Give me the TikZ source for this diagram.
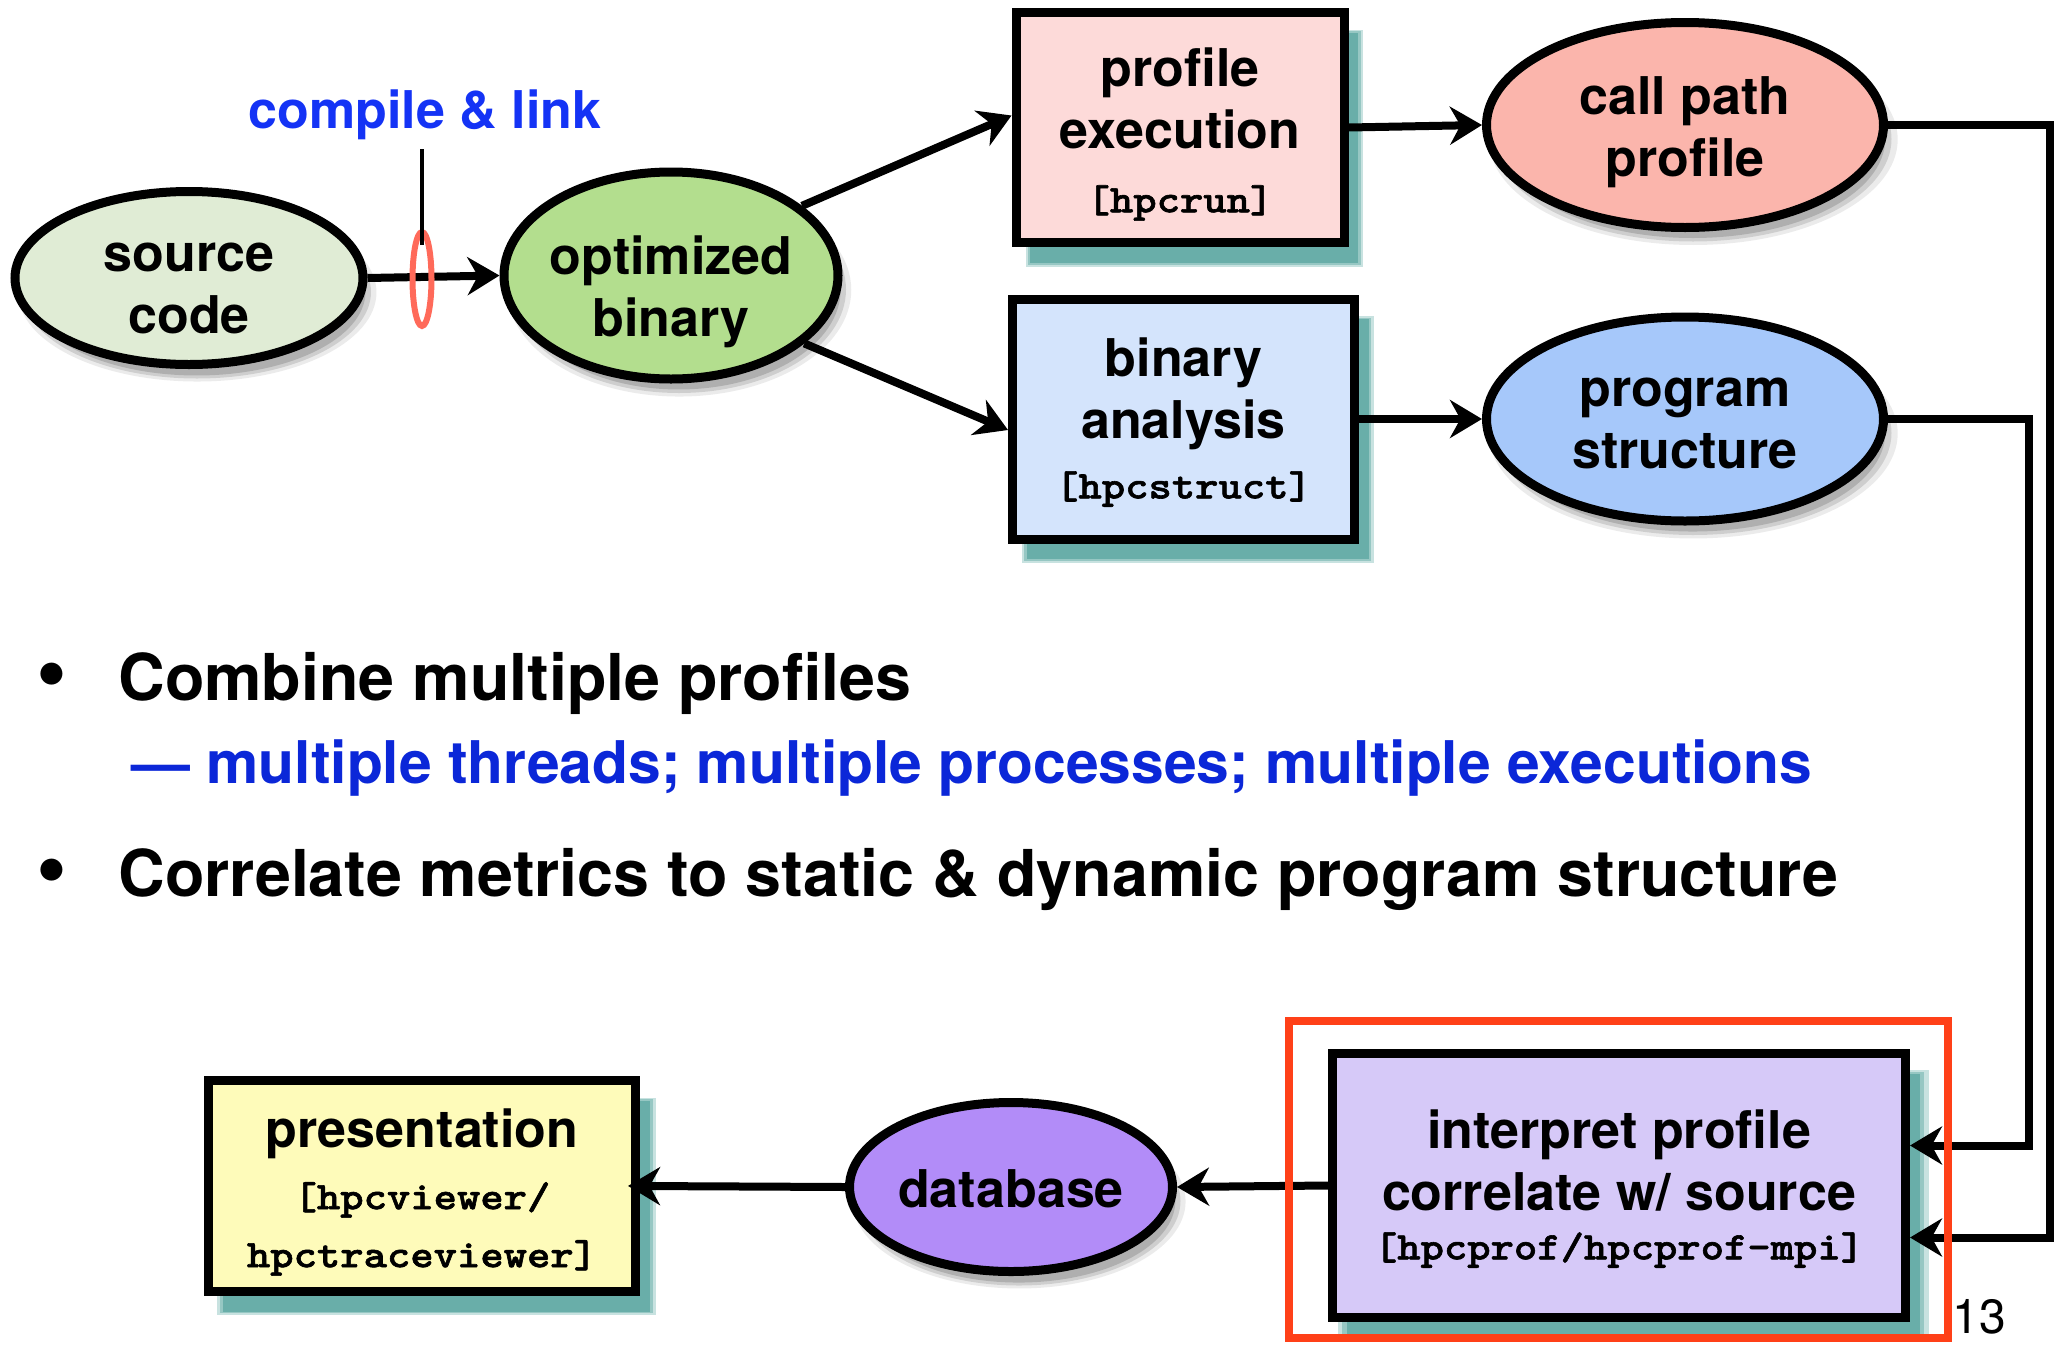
\documentclass[tikz,border=0pt]{standalone}
\usepackage{fontspec}
\setmainfont{TeX Gyre Heros}
\newfontfamily\monof{lmmonolt10-bold}[Extension=.otf, FakeStretch=1.14, FakeBold=1.5]
\usetikzlibrary{shapes.geometric,arrows.meta,shadows,calc}
\definecolor{srcfill}{HTML}{E0ECD5}
\definecolor{optfill}{HTML}{B3DE8E}
\definecolor{pefill}{HTML}{FDDAD9}
\definecolor{cppfill}{HTML}{FBB5AC}
\definecolor{bafill}{HTML}{D4E4FC}
\definecolor{psfill}{HTML}{A6C8FA}
\definecolor{ipfill}{HTML}{D6C9F8}
\definecolor{dbfill}{HTML}{B28CF8}
\definecolor{presfill}{HTML}{FEFBBA}
\definecolor{shteal}{HTML}{4A9E97}
\definecolor{ringred}{HTML}{FF6A5A}
\definecolor{boxred}{HTML}{FF4018}
\definecolor{lblue}{HTML}{1433F5}
\definecolor{dblue}{HTML}{0B27D8}
\newcommand{\mono}{\monof\fontsize{19.5}{23}\selectfont}
\newcommand{\dn}[2]{\raisebox{0pt}[\dimexpr\height+#1\relax]{#2}}
\tikzset{
  nodefont/.style={font=\bfseries\fontsize{26}{31}\selectfont, align=center, text=black},
  tealshadow/.style={
    general shadow={shadow xshift=7pt, shadow yshift=-10pt, shadow scale=1.03, fill=shteal, opacity=0.3},
    general shadow={shadow xshift=7pt, shadow yshift=-10pt, shadow scale=1.015, fill=shteal, opacity=0.4},
    general shadow={shadow xshift=7pt, shadow yshift=-10pt, fill=shteal, opacity=0.6}},
  grayshadow/.style={
    general shadow={shadow xshift=4pt, shadow yshift=-7pt, shadow scale=1.03, fill=black, opacity=0.08},
    general shadow={shadow xshift=4pt, shadow yshift=-7pt, fill=black, opacity=0.12},
    general shadow={shadow xshift=4pt, shadow yshift=-7pt, shadow scale=0.97, fill=black, opacity=0.15}},
  procbox/.style={nodefont, rectangle, draw=black, line width=4.5pt, inner sep=0pt, tealshadow},
  dataoval/.style={nodefont, ellipse, draw=black, line width=4.5pt, inner sep=-20pt, grayshadow},
  conn/.style={line width=4pt, -{Stealth[length=16pt,width=19pt]}},
  tickline/.style={line width=2pt},
  bigtext/.style={font=\bfseries\fontsize{32.3}{38}\selectfont, anchor=base west, inner sep=0pt},
  bulletmark/.style={font=\bfseries\fontsize{44}{48}\selectfont, anchor=base},
}
\begin{document}
\begin{tikzpicture}[x=0.5pt,y=-0.5pt]
\useasboundingbox (0,0) rectangle (2056,1344);
% nodes
\node[dataoval, fill=srcfill, minimum width=174pt, minimum height=86.5pt] (src) at (189,278) {\dn{10pt}{source}\\code};
\node[dataoval, fill=optfill, minimum width=167pt, minimum height=103.5pt] (opt) at (671,275.5) {\dn{16.4pt}{optimized}\\binary};
\node[procbox, fill=pefill, minimum width=164pt, minimum height=115pt] (pe) at (1180,127.5) {\dn{6.6pt}{profile}\\execution\\[1pt]{\mono [hpcrun]}};
\node[dataoval, fill=cppfill, minimum width=198.5pt, minimum height=102.5pt] (cpp) at (1685,125) {\dn{7.2pt}{call path}\\profile};
\node[procbox, fill=bafill, minimum width=171pt, minimum height=120pt] (ba) at (1183.5,419) {\dn{3.2pt}{binary}\\analysis\\[-1pt]{\mono [hpcstruct]}};
\node[dataoval, fill=psfill, minimum width=198.5pt, minimum height=102pt] (ps) at (1685,419) {\dn{4pt}{program}\\structure};
\node[procbox, fill=ipfill, minimum width=286.5pt, minimum height=132pt] (ip) at (1619,1185.5) {\dn{3.2pt}{interpret profile}\\correlate w/ source\\[-6.5pt]{\mono [hpcprof/hpcprof-mpi]}};
\node[dataoval, fill=dbfill, minimum width=161.5pt, minimum height=84.5pt] (db) at (1011,1187) {\dn{1.4pt}{database}};
\node[procbox, fill=presfill, minimum width=213.5pt, minimum height=105.5pt] (pres) at (422,1186) {\dn{6pt}{presentation}\\{\mono [hpcviewer/}\\[-2pt]{\mono hpctraceviewer]}};
% label
\node[font=\bfseries\fontsize{26}{31}\selectfont, text=lblue, anchor=base] (lbl) at (425,128) {compile \& link};
% connectors
\coordinate (rail1) at (2050,0);
\coordinate (rail2) at (2029,0);
\coordinate (ipin1) at ($(ip.east)+(0,-40)$);
\coordinate (ipin2) at ($(ip.east)+(0,52)$);
\draw[conn] (src.east) -- (opt.west);
\draw[conn] (opt.28) -- ($(pe.west)+(0,-12)$);
\draw[conn] (opt.-27) -- ($(ba.west)+(0,11)$);
\draw[conn] (pe.east) -- (cpp.west);
\draw[conn] (ba.east) -- (ps.west);
\draw[conn] (cpp.east) -| (rail1 |- ipin2) -- (ipin2);
\draw[conn] (ps.east) -| (rail2 |- ipin1) -- (ipin1);
\draw[conn] (ip.west) -- (db.east);
\draw[conn, shorten >=-6pt] (db.west) -- (pres.east);
% compile ring and tick
\node[ellipse, draw=ringred, line width=3pt, minimum width=9.5pt, minimum height=47pt, inner sep=0pt] (ring) at (422,279) {};
\coordinate (tk1) at (422,149);
\coordinate (tk2) at (422,245);
\draw[tickline] (tk1) -- (tk2);
% highlight frame
\draw[boxred, line width=4pt] (1289,1021) rectangle (1948,1338);
% bullets
\node[bulletmark] (bul1) at (52,700) {\textbullet};
\node[bigtext] (b1) at (118,700) {Combine multiple profiles};
\node[font=\bfseries\fontsize{29.4}{35}\selectfont, text=dblue, anchor=base west, inner sep=0pt] (s1) at (131,783) {— multiple threads; multiple processes; multiple executions};
\node[bulletmark] (bul2) at (52,896) {\textbullet};
\node[bigtext] (b2) at (118,896) {Correlate metrics to static \& dynamic program structure};
\node[font=\fontsize{24}{28}\selectfont, anchor=base west, inner sep=0pt] (pg) at (1952,1333) {13};
\end{tikzpicture}
\end{document}
